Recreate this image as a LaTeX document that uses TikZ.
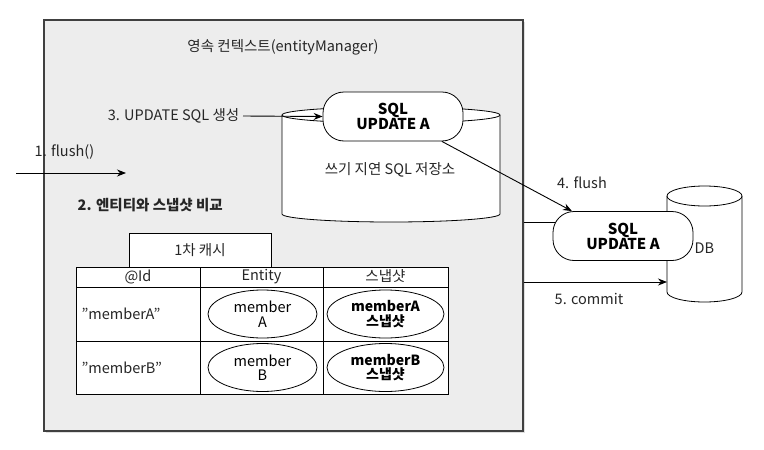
\documentclass[tikz,border=0pt]{standalone}
\usepackage{fontspec}
\setmainfont{Noto Sans CJK KR}
\usetikzlibrary{shapes.geometric, arrows.meta, shadows}

\tikzset{
  lbl/.style={font=\fontsize{14.5}{15}\selectfont, text=black!85},
  pill/.style={draw, fill=white, rounded corners=21pt, minimum width=140pt, minimum height=49pt,
    inner sep=0pt, align=center, font=\bfseries\fontsize{15}{15}\selectfont},
  cell/.style={draw, ellipse, fill=white, minimum width=109pt, minimum height=48pt,
    inner sep=0pt, align=center, font=\fontsize{14.5}{14.5}\selectfont},
  arr/.style={-{Stealth[length=9pt, width=7pt]}, line width=0.9pt},
}

\begin{document}
\begin{tikzpicture}[x=1pt, y=-1pt, line width=0.8pt]
  \useasboundingbox (0,0) rectangle (764,450);
  \node[draw=black!75, fill=gray!14, line width=1.2pt, minimum width=479pt, minimum height=411pt,
    drop shadow={shadow xshift=1.5pt, shadow yshift=-2pt, opacity=0.25}] (pc) at (283.5,225.5) {};
  \node[lbl] (title) at (283,47) {영속 컨텍스트(entityManager)};

  \draw[fill=white] (282,115) -- (282,214) arc[start angle=180, end angle=360, x radius=109pt, y radius=8pt] -- (500,115);
  \draw[fill=white] (391,115) ellipse[x radius=109pt, y radius=8pt];
  \node[lbl] (store) at (390,170) {쓰기 지연 SQL 저장소};
  \node[pill] (sqla) at (393,116.5) {SQL\\UPDATE A};
  \node[lbl, anchor=east] (gen) at (243,116) {3. UPDATE SQL 생성};
  \draw[arr] (gen.east) -- (sqla.west);

  \draw[fill=white] (667,196) -- (667,292) arc[start angle=180, end angle=360, x radius=37.5pt, y radius=10pt] -- (742,196);
  \draw[fill=white] (704.5,196) ellipse[x radius=37.5pt, y radius=10pt];
  \coordinate (dbside) at (667,282);
  \draw (pc.east |- 0,222) -- (560,222);
  \node[pill] (sqlb) at (623,236) {SQL\\UPDATE A};
  \node[lbl, anchor=west] (db) at (691,248) {DB};
  \draw[arr] (sqla.-27.5) -- (sqlb.154);
  \node[lbl] (fl) at (582,183) {4. flush};
  \draw[arr] (pc.east |- dbside) -- (dbside);
  \node[lbl] (commit) at (589,299) {5. commit};

  \node[lbl, anchor=west] (flush) at (31,152) {1. flush()};
  \coordinate (in) at (16,173);
  \coordinate (inend) at (126,173);
  \draw[arr] (in) -- (inend);
  \node[lbl, font=\bfseries\fontsize{14.5}{15}\selectfont, anchor=west] (cmp) at (74,205) {2. 엔티티와 스냅샷 비교};

  \draw[fill=white] (76,267) rectangle (448,394);
  \draw (76,287) -- (448,287) (76,341) -- (448,341) (200,267) -- (200,394) (323,267) -- (323,394);
  \node[draw, fill=white, minimum width=142pt, minimum height=34pt] (cache) at (200,250) {};
  \node[lbl] at (cache) {1차 캐시};
  \node[lbl] (hid) at (138,276.5) {@Id};
  \node[lbl] (hent) at (261.5,276.5) {Entity};
  \node[lbl] (hsnap) at (385.5,276.5) {스냅샷};
  \foreach \m/\y in {A/314, B/367.5} {
    \node[lbl, anchor=west] (id\m) at (78,\y) {"member\m"};
    \node[cell] (ent\m) at (262.5,\y) {member\\\m};
    \node[cell, minimum width=117pt, font=\bfseries\fontsize{14}{14.5}\selectfont] (snap\m) at (385.5,\y) {member\m\\스냅샷};
  }
\end{tikzpicture}
\end{document}
